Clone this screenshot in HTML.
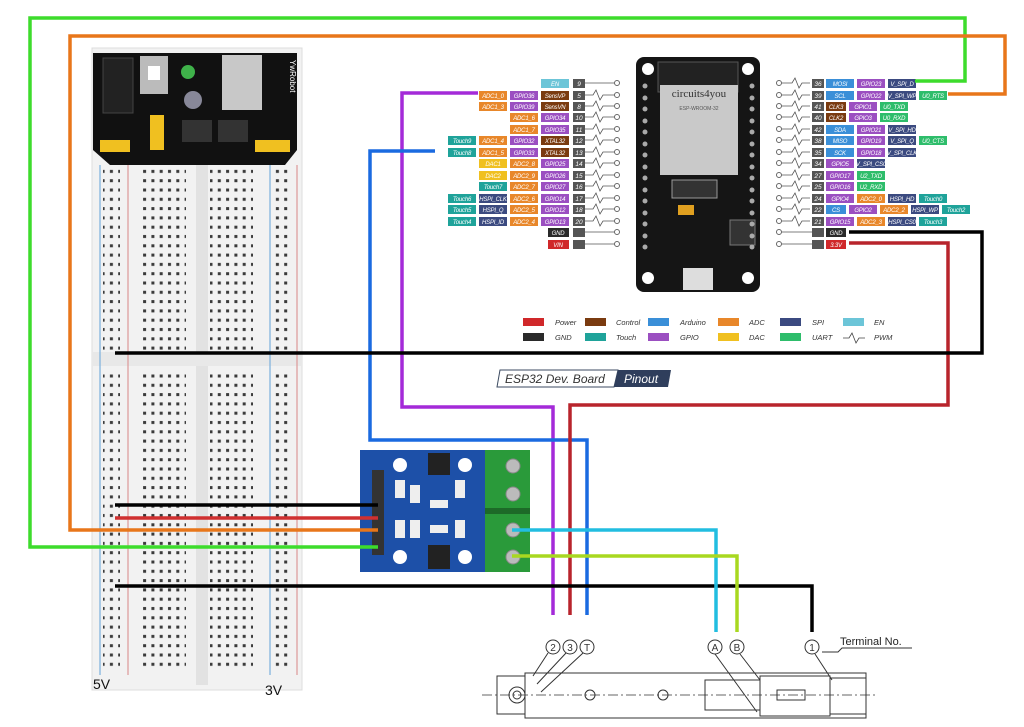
<!DOCTYPE html>
<html><head><meta charset="utf-8"><style>
html,body{margin:0;padding:0;background:#fff;}
svg{display:block;}
.l{font-family:"Liberation Sans",sans-serif;font-size:6px;letter-spacing:-0.2px;font-style:italic;fill:#fff;text-anchor:middle;}
.n{font-family:"Liberation Sans",sans-serif;font-size:6.5px;font-style:italic;fill:#fff;text-anchor:middle;}
.g{font-family:"Liberation Sans",sans-serif;font-size:7.5px;font-style:italic;fill:#333;}
.c{font-family:"Liberation Sans",sans-serif;font-size:10px;fill:#333;text-anchor:middle;}
</style></head><body>
<svg width="1024" height="727" viewBox="0 0 1024 727" xmlns="http://www.w3.org/2000/svg">
<defs>
<pattern id="h" x="0" y="0" width="8.3" height="9.3" patternUnits="userSpaceOnUse"><rect x="2" y="2.5" width="3" height="3" fill="#3a3a3a"/></pattern>
<pattern id="hr" x="0" y="0" width="8.3" height="9.3" patternUnits="userSpaceOnUse"><rect x="2" y="2.5" width="3" height="3" fill="#3a3a3a"/></pattern>
</defs>
<rect width="1024" height="727" fill="#fff"/>

<!-- breadboard -->
<rect x="92" y="48" width="210" height="642" fill="#f2f2f2" stroke="#ddd"/>
<rect x="196" y="165" width="12" height="520" fill="#e2e2e2"/>
<rect x="92" y="352" width="210" height="14" fill="#e8e8e8"/>
<line x1="100" y1="165" x2="100" y2="675" stroke="#7ab0dd" stroke-width="1.2"/>
<line x1="128" y1="165" x2="128" y2="675" stroke="#d99" stroke-width="1.2"/>
<line x1="270" y1="165" x2="270" y2="675" stroke="#7ab0dd" stroke-width="1.2"/>
<line x1="297" y1="165" x2="297" y2="675" stroke="#d99" stroke-width="1.2"/>
<rect x="143" y="168" width="43" height="183" fill="url(#h)"/>
<rect x="210" y="168" width="43" height="183" fill="url(#h)"/>
<rect x="143" y="370" width="43" height="300" fill="url(#h)"/>
<rect x="210" y="370" width="43" height="300" fill="url(#h)"/>
<rect x="103" y="168" width="17" height="183" fill="url(#hr)"/>
<rect x="273" y="168" width="17" height="183" fill="url(#hr)"/>
<rect x="103" y="370" width="17" height="300" fill="url(#hr)"/>
<rect x="273" y="370" width="17" height="300" fill="url(#hr)"/>
<!-- power module -->
<path d="M93 53 H297 V150 L285 165 H110 L93 150 Z" fill="#111"/>
<rect x="103" y="58" width="30" height="55" fill="#222" stroke="#444"/>
<rect x="140" y="56" width="28" height="38" fill="#bbb"/>
<rect x="148" y="66" width="12" height="14" fill="#fff"/>
<circle cx="188" cy="72" r="7" fill="#3fb24a"/>
<circle cx="193" cy="100" r="9" fill="#889"/>
<rect x="222" y="55" width="40" height="55" fill="#c8c8c8"/>
<rect x="150" y="115" width="14" height="35" fill="#f0c020"/>
<rect x="100" y="140" width="30" height="12" fill="#f0c020"/>
<rect x="255" y="140" width="35" height="12" fill="#f0c020"/>
<rect x="182" y="120" width="30" height="22" fill="#333"/>
<rect x="218" y="120" width="30" height="22" fill="#333"/>
<text x="290" y="60" font-family="Liberation Sans" font-size="8" fill="#fff" transform="rotate(90 290 60)">YwRobot</text>
<text x="93" y="689" font-family="Liberation Sans" font-size="14" fill="#111">5V</text>
<text x="265" y="695" font-family="Liberation Sans" font-size="14" fill="#111">3V</text>

<!-- ESP32 board -->
<rect x="636" y="57" width="124" height="235" rx="8" fill="#151515"/>
<rect x="658" y="62" width="80" height="30" fill="#222" stroke="#555"/>
<rect x="660" y="85" width="78" height="90" fill="#c9c9c9"/>
<text x="699" y="97" font-family="Liberation Serif" font-size="11" fill="#333" text-anchor="middle">circuits4you</text>
<text x="699" y="110" font-family="Liberation Sans" font-size="5" fill="#555" text-anchor="middle">ESP-WROOM-32</text>
<rect x="672" y="180" width="45" height="18" fill="#333" stroke="#999"/>
<rect x="678" y="205" width="16" height="10" fill="#e0a020"/>
<rect x="730" y="220" width="25" height="25" fill="#333" stroke="#777"/>
<rect x="683" y="268" width="30" height="22" fill="#ddd"/>
<g fill="#fff">
<circle cx="648" cy="69" r="6"/><circle cx="748" cy="69" r="6"/><circle cx="648" cy="278" r="6"/><circle cx="748" cy="278" r="6"/>
</g>
<g fill="#aaa">
<circle cx="645" cy="86" r="2.5"/><circle cx="645" cy="98" r="2.5"/><circle cx="645" cy="109" r="2.5"/><circle cx="645" cy="121" r="2.5"/><circle cx="645" cy="132" r="2.5"/><circle cx="645" cy="144" r="2.5"/><circle cx="645" cy="155" r="2.5"/><circle cx="645" cy="167" r="2.5"/><circle cx="645" cy="178" r="2.5"/><circle cx="645" cy="190" r="2.5"/><circle cx="645" cy="201" r="2.5"/><circle cx="645" cy="213" r="2.5"/><circle cx="645" cy="224" r="2.5"/><circle cx="645" cy="236" r="2.5"/><circle cx="645" cy="247" r="2.5"/>
<circle cx="752" cy="86" r="2.5"/><circle cx="752" cy="98" r="2.5"/><circle cx="752" cy="109" r="2.5"/><circle cx="752" cy="121" r="2.5"/><circle cx="752" cy="132" r="2.5"/><circle cx="752" cy="144" r="2.5"/><circle cx="752" cy="155" r="2.5"/><circle cx="752" cy="167" r="2.5"/><circle cx="752" cy="178" r="2.5"/><circle cx="752" cy="190" r="2.5"/><circle cx="752" cy="201" r="2.5"/><circle cx="752" cy="213" r="2.5"/><circle cx="752" cy="224" r="2.5"/><circle cx="752" cy="236" r="2.5"/><circle cx="752" cy="247" r="2.5"/>
</g>

<!-- pin lines & dots -->
<g stroke="#555" stroke-width="0.8" fill="none">
<path d="M585 83H616 M585 95h8l3-5 4 10 3-5h13 M585 106h8l3-5 4 10 3-5h13 M585 117h8l3-5 4 10 3-5h13 M585 129h8l3-5 4 10 3-5h13 M585 140h8l3-5 4 10 3-5h13 M585 152h8l3-5 4 10 3-5h13 M585 163h8l3-5 4 10 3-5h13 M585 175h8l3-5 4 10 3-5h13 M585 186h8l3-5 4 10 3-5h13 M585 198h8l3-5 4 10 3-5h13 M585 209h8l3-5 4 10 3-5h13 M585 221h8l3-5 4 10 3-5h13 M585 232H616 M585 244H616"/>
<path d="M779 83h13l3-5 4 10 3-5h8 M779 95h13l3-5 4 10 3-5h8 M779 106h13l3-5 4 10 3-5h8 M779 117h13l3-5 4 10 3-5h8 M779 129h13l3-5 4 10 3-5h8 M779 140h13l3-5 4 10 3-5h8 M779 152h13l3-5 4 10 3-5h8 M779 163h13l3-5 4 10 3-5h8 M779 175h13l3-5 4 10 3-5h8 M779 186h13l3-5 4 10 3-5h8 M779 198h13l3-5 4 10 3-5h8 M779 209h13l3-5 4 10 3-5h8 M779 221h13l3-5 4 10 3-5h8 M779 232H812 M779 244H812"/>
</g>
<g fill="#fff" stroke="#666" stroke-width="1">
<circle cx="617" cy="83" r="2.5"/><circle cx="617" cy="95" r="2.5"/><circle cx="617" cy="106" r="2.5"/><circle cx="617" cy="117" r="2.5"/><circle cx="617" cy="129" r="2.5"/><circle cx="617" cy="140" r="2.5"/><circle cx="617" cy="152" r="2.5"/><circle cx="617" cy="163" r="2.5"/><circle cx="617" cy="175" r="2.5"/><circle cx="617" cy="186" r="2.5"/><circle cx="617" cy="198" r="2.5"/><circle cx="617" cy="209" r="2.5"/><circle cx="617" cy="221" r="2.5"/><circle cx="617" cy="232" r="2.5"/><circle cx="617" cy="244" r="2.5"/>
<circle cx="779" cy="83" r="2.5"/><circle cx="779" cy="95" r="2.5"/><circle cx="779" cy="106" r="2.5"/><circle cx="779" cy="117" r="2.5"/><circle cx="779" cy="129" r="2.5"/><circle cx="779" cy="140" r="2.5"/><circle cx="779" cy="152" r="2.5"/><circle cx="779" cy="163" r="2.5"/><circle cx="779" cy="175" r="2.5"/><circle cx="779" cy="186" r="2.5"/><circle cx="779" cy="198" r="2.5"/><circle cx="779" cy="209" r="2.5"/><circle cx="779" cy="221" r="2.5"/><circle cx="779" cy="232" r="2.5"/><circle cx="779" cy="244" r="2.5"/>
</g>

<g>
<g fill="#555">
<rect x="573" y="79" width="12" height="9"/><rect x="573" y="91" width="12" height="9"/><rect x="573" y="102" width="12" height="9"/><rect x="573" y="113" width="12" height="9"/><rect x="573" y="125" width="12" height="9"/><rect x="573" y="136" width="12" height="9"/><rect x="573" y="148" width="12" height="9"/><rect x="573" y="159" width="12" height="9"/><rect x="573" y="171" width="12" height="9"/><rect x="573" y="182" width="12" height="9"/><rect x="573" y="194" width="12" height="9"/><rect x="573" y="205" width="12" height="9"/><rect x="573" y="217" width="12" height="9"/><rect x="573" y="228" width="12" height="9"/><rect x="573" y="240" width="12" height="9"/>
<rect x="812" y="79" width="12" height="9"/><rect x="812" y="91" width="12" height="9"/><rect x="812" y="102" width="12" height="9"/><rect x="812" y="113" width="12" height="9"/><rect x="812" y="125" width="12" height="9"/><rect x="812" y="136" width="12" height="9"/><rect x="812" y="148" width="12" height="9"/><rect x="812" y="159" width="12" height="9"/><rect x="812" y="171" width="12" height="9"/><rect x="812" y="182" width="12" height="9"/><rect x="812" y="194" width="12" height="9"/><rect x="812" y="205" width="12" height="9"/><rect x="812" y="217" width="12" height="9"/><rect x="812" y="228" width="12" height="9"/><rect x="812" y="240" width="12" height="9"/>
</g>
<g class="n">
<text x="579" y="86">9</text><text x="579" y="98">5</text><text x="579" y="109">8</text><text x="579" y="120">10</text><text x="579" y="132">11</text><text x="579" y="143">12</text><text x="579" y="155">13</text><text x="579" y="166">14</text><text x="579" y="178">15</text><text x="579" y="189">16</text><text x="579" y="201">17</text><text x="579" y="212">18</text><text x="579" y="224">20</text>
<text x="818" y="86">36</text><text x="818" y="98">39</text><text x="818" y="109">41</text><text x="818" y="120">40</text><text x="818" y="132">42</text><text x="818" y="143">38</text><text x="818" y="155">35</text><text x="818" y="166">34</text><text x="818" y="178">27</text><text x="818" y="189">25</text><text x="818" y="201">24</text><text x="818" y="212">22</text><text x="818" y="224">21</text>
</g>
<rect x="541" y="79" width="28" height="9" fill="#6cc5d8"/>
<rect x="479" y="91" width="28" height="9" fill="#e8872a"/><rect x="510" y="91" width="28" height="9" fill="#9b4fc1"/><rect x="541" y="91" width="28" height="9" fill="#7a3b10"/>
<rect x="479" y="102" width="28" height="9" fill="#e8872a"/><rect x="510" y="102" width="28" height="9" fill="#9b4fc1"/><rect x="541" y="102" width="28" height="9" fill="#7a3b10"/>
<rect x="510" y="113" width="28" height="9" fill="#e8872a"/><rect x="541" y="113" width="28" height="9" fill="#9b4fc1"/>
<rect x="510" y="125" width="28" height="9" fill="#e8872a"/><rect x="541" y="125" width="28" height="9" fill="#9b4fc1"/>
<rect x="448" y="136" width="28" height="9" fill="#1fa39a"/><rect x="479" y="136" width="28" height="9" fill="#e8872a"/><rect x="510" y="136" width="28" height="9" fill="#9b4fc1"/><rect x="541" y="136" width="28" height="9" fill="#7a3b10"/>
<rect x="448" y="148" width="28" height="9" fill="#1fa39a"/><rect x="479" y="148" width="28" height="9" fill="#e8872a"/><rect x="510" y="148" width="28" height="9" fill="#9b4fc1"/><rect x="541" y="148" width="28" height="9" fill="#7a3b10"/>
<rect x="479" y="159" width="28" height="9" fill="#f0c020"/><rect x="510" y="159" width="28" height="9" fill="#e8872a"/><rect x="541" y="159" width="28" height="9" fill="#9b4fc1"/>
<rect x="479" y="171" width="28" height="9" fill="#f0c020"/><rect x="510" y="171" width="28" height="9" fill="#e8872a"/><rect x="541" y="171" width="28" height="9" fill="#9b4fc1"/>
<rect x="479" y="182" width="28" height="9" fill="#1fa39a"/><rect x="510" y="182" width="28" height="9" fill="#e8872a"/><rect x="541" y="182" width="28" height="9" fill="#9b4fc1"/>
<rect x="448" y="194" width="28" height="9" fill="#1fa39a"/><rect x="479" y="194" width="28" height="9" fill="#3b4a80"/><rect x="510" y="194" width="28" height="9" fill="#e8872a"/><rect x="541" y="194" width="28" height="9" fill="#9b4fc1"/>
<rect x="448" y="205" width="28" height="9" fill="#1fa39a"/><rect x="479" y="205" width="28" height="9" fill="#3b4a80"/><rect x="510" y="205" width="28" height="9" fill="#e8872a"/><rect x="541" y="205" width="28" height="9" fill="#9b4fc1"/>
<rect x="448" y="217" width="28" height="9" fill="#1fa39a"/><rect x="479" y="217" width="28" height="9" fill="#3b4a80"/><rect x="510" y="217" width="28" height="9" fill="#e8872a"/><rect x="541" y="217" width="28" height="9" fill="#9b4fc1"/>
<rect x="548" y="228" width="21" height="9" fill="#2a2a2a"/>
<rect x="548" y="240" width="21" height="9" fill="#d0282a"/>
<g class="l">
<text x="555" y="86">EN</text>
<text x="493" y="98">ADC1_0</text><text x="524" y="98">GPIO36</text><text x="555" y="98">SensVP</text>
<text x="493" y="109">ADC1_3</text><text x="524" y="109">GPIO39</text><text x="555" y="109">SensVN</text>
<text x="524" y="120">ADC1_6</text><text x="555" y="120">GPIO34</text>
<text x="524" y="132">ADC1_7</text><text x="555" y="132">GPIO35</text>
<text x="462" y="143">Touch9</text><text x="493" y="143">ADC1_4</text><text x="524" y="143">GPIO32</text><text x="555" y="143">XTAL32</text>
<text x="462" y="155">Touch8</text><text x="493" y="155">ADC1_5</text><text x="524" y="155">GPIO33</text><text x="555" y="155">XTAL32</text>
<text x="493" y="166">DAC1</text><text x="524" y="166">ADC2_8</text><text x="555" y="166">GPIO25</text>
<text x="493" y="178">DAC2</text><text x="524" y="178">ADC2_9</text><text x="555" y="178">GPIO26</text>
<text x="493" y="189">Touch7</text><text x="524" y="189">ADC2_7</text><text x="555" y="189">GPIO27</text>
<text x="462" y="201">Touch6</text><text x="493" y="201">HSPI_CLK</text><text x="524" y="201">ADC2_6</text><text x="555" y="201">GPIO14</text>
<text x="462" y="212">Touch5</text><text x="493" y="212">HSPI_Q</text><text x="524" y="212">ADC2_5</text><text x="555" y="212">GPIO12</text>
<text x="462" y="224">Touch4</text><text x="493" y="224">HSPI_ID</text><text x="524" y="224">ADC2_4</text><text x="555" y="224">GPIO13</text>
<text x="558" y="235">GND</text><text x="558" y="247">VIN</text>
</g>

<rect x="826" y="79" width="28" height="9" fill="#3a8fd8"/><rect x="857" y="79" width="28" height="9" fill="#9b4fc1"/><rect x="888" y="79" width="28" height="9" fill="#3b4a80"/>
<rect x="826" y="91" width="28" height="9" fill="#3a8fd8"/><rect x="857" y="91" width="28" height="9" fill="#9b4fc1"/><rect x="888" y="91" width="28" height="9" fill="#3b4a80"/><rect x="919" y="91" width="28" height="9" fill="#2ebd6b"/>
<rect x="826" y="102" width="20" height="9" fill="#7a3b10"/><rect x="849" y="102" width="28" height="9" fill="#9b4fc1"/><rect x="880" y="102" width="28" height="9" fill="#2ebd6b"/>
<rect x="826" y="113" width="20" height="9" fill="#7a3b10"/><rect x="849" y="113" width="28" height="9" fill="#9b4fc1"/><rect x="880" y="113" width="28" height="9" fill="#2ebd6b"/>
<rect x="826" y="125" width="28" height="9" fill="#3a8fd8"/><rect x="857" y="125" width="28" height="9" fill="#9b4fc1"/><rect x="888" y="125" width="28" height="9" fill="#3b4a80"/>
<rect x="826" y="136" width="28" height="9" fill="#3a8fd8"/><rect x="857" y="136" width="28" height="9" fill="#9b4fc1"/><rect x="888" y="136" width="28" height="9" fill="#3b4a80"/><rect x="919" y="136" width="28" height="9" fill="#2ebd6b"/>
<rect x="826" y="148" width="28" height="9" fill="#3a8fd8"/><rect x="857" y="148" width="28" height="9" fill="#9b4fc1"/><rect x="888" y="148" width="28" height="9" fill="#3b4a80"/>
<rect x="826" y="159" width="28" height="9" fill="#9b4fc1"/><rect x="857" y="159" width="28" height="9" fill="#3b4a80"/>
<rect x="826" y="171" width="28" height="9" fill="#9b4fc1"/><rect x="857" y="171" width="28" height="9" fill="#2ebd6b"/>
<rect x="826" y="182" width="28" height="9" fill="#9b4fc1"/><rect x="857" y="182" width="28" height="9" fill="#2ebd6b"/>
<rect x="826" y="194" width="28" height="9" fill="#9b4fc1"/><rect x="857" y="194" width="28" height="9" fill="#e8872a"/><rect x="888" y="194" width="28" height="9" fill="#3b4a80"/><rect x="919" y="194" width="28" height="9" fill="#1fa39a"/>
<rect x="826" y="205" width="20" height="9" fill="#3a8fd8"/><rect x="849" y="205" width="28" height="9" fill="#9b4fc1"/><rect x="880" y="205" width="28" height="9" fill="#e8872a"/><rect x="911" y="205" width="28" height="9" fill="#3b4a80"/><rect x="942" y="205" width="28" height="9" fill="#1fa39a"/>
<rect x="826" y="217" width="28" height="9" fill="#9b4fc1"/><rect x="857" y="217" width="28" height="9" fill="#e8872a"/><rect x="888" y="217" width="28" height="9" fill="#3b4a80"/><rect x="919" y="217" width="28" height="9" fill="#1fa39a"/>
<rect x="826" y="228" width="20" height="9" fill="#2a2a2a"/>
<rect x="826" y="240" width="20" height="9" fill="#d0282a"/>
<g class="l">
<text x="840" y="86">MOSI</text><text x="871" y="86">GPIO23</text><text x="902" y="86">V_SPI_D</text>
<text x="840" y="98">SCL</text><text x="871" y="98">GPIO22</text><text x="902" y="98">V_SPI_WP</text><text x="933" y="98">U0_RTS</text>
<text x="836" y="109">CLK3</text><text x="863" y="109">GPIO1</text><text x="894" y="109">U0_TXD</text>
<text x="836" y="120">CLK2</text><text x="863" y="120">GPIO3</text><text x="894" y="120">U0_RXD</text>
<text x="840" y="132">SDA</text><text x="871" y="132">GPIO21</text><text x="902" y="132">V_SPI_HD</text>
<text x="840" y="143">MISO</text><text x="871" y="143">GPIO19</text><text x="902" y="143">V_SPI_Q</text><text x="933" y="143">U0_CTS</text>
<text x="840" y="155">SCK</text><text x="871" y="155">GPIO18</text><text x="902" y="155">V_SPI_CLK</text>
<text x="840" y="166">GPIO5</text><text x="871" y="166">V_SPI_CS0</text>
<text x="840" y="178">GPIO17</text><text x="871" y="178">U2_TXD</text>
<text x="840" y="189">GPIO16</text><text x="871" y="189">U2_RXD</text>
<text x="840" y="201">GPIO4</text><text x="871" y="201">ADC2_0</text><text x="902" y="201">HSPI_HD</text><text x="933" y="201">Touch0</text>
<text x="836" y="212">CS</text><text x="863" y="212">GPIO2</text><text x="894" y="212">ADC2_2</text><text x="925" y="212">HSPI_WP</text><text x="956" y="212">Touch2</text>
<text x="840" y="224">GPIO15</text><text x="871" y="224">ADC2_3</text><text x="902" y="224">HSPI_CS0</text><text x="933" y="224">Touch3</text>
<text x="836" y="235">GND</text><text x="836" y="247">3.3V</text>
</g>
</g>

<!-- legend -->
<rect x="523" y="318" width="21" height="8" fill="#d0282a"/><text class="g" x="555" y="325">Power</text>
<rect x="585" y="318" width="21" height="8" fill="#7a3b10"/><text class="g" x="616" y="325">Control</text>
<rect x="648" y="318" width="21" height="8" fill="#3a8fd8"/><text class="g" x="680" y="325">Arduino</text>
<rect x="718" y="318" width="21" height="8" fill="#e8872a"/><text class="g" x="749" y="325">ADC</text>
<rect x="780" y="318" width="21" height="8" fill="#3b4a80"/><text class="g" x="812" y="325">SPI</text>
<rect x="843" y="318" width="21" height="8" fill="#6cc5d8"/><text class="g" x="874" y="325">EN</text>
<rect x="523" y="333" width="21" height="8" fill="#2a2a2a"/><text class="g" x="555" y="340">GND</text>
<rect x="585" y="333" width="21" height="8" fill="#1fa39a"/><text class="g" x="616" y="340">Touch</text>
<rect x="648" y="333" width="21" height="8" fill="#9b4fc1"/><text class="g" x="680" y="340">GPIO</text>
<rect x="718" y="333" width="21" height="8" fill="#f0c020"/><text class="g" x="749" y="340">DAC</text>
<rect x="780" y="333" width="21" height="8" fill="#2ebd6b"/><text class="g" x="812" y="340">UART</text>
<path d="M843 338h6l3-5 4 10 3-5h6" stroke="#444" fill="none" stroke-width="0.8"/><text class="g" x="874" y="340">PWM</text>

<!-- banner -->
<path d="M500 370H618L614 387H497Z" fill="#fff" stroke="#3b4a60" stroke-width="1"/>
<path d="M618 370H671L668 387H614Z" fill="#2f3e5c"/>
<text x="505" y="383" font-family="Liberation Sans" font-size="12" font-style="italic" fill="#333">ESP32 Dev. Board</text>
<text x="624" y="383" font-family="Liberation Sans" font-size="12" font-style="italic" fill="#fff">Pinout</text>

<!-- motor driver -->
<rect x="360" y="450" width="128" height="122" fill="#1d50a8"/>
<rect x="485" y="450" width="45" height="122" fill="#2a9a3a"/>
<rect x="485" y="508" width="45" height="6" fill="#1d6a28"/>
<g fill="#bbb" stroke="#888"><circle cx="513" cy="466" r="7"/><circle cx="513" cy="494" r="7"/><circle cx="513" cy="530" r="7"/><circle cx="513" cy="557" r="7"/></g>
<g fill="#fff"><circle cx="400" cy="465" r="7"/><circle cx="465" cy="465" r="7"/><circle cx="400" cy="557" r="7"/><circle cx="465" cy="557" r="7"/></g>
<rect x="428" y="453" width="22" height="22" fill="#222"/><rect x="428" y="545" width="22" height="24" fill="#222"/>
<g fill="#eee"><rect x="395" y="480" width="10" height="18"/><rect x="410" y="485" width="10" height="18"/><rect x="455" y="480" width="10" height="18"/><rect x="395" y="520" width="10" height="18"/><rect x="410" y="520" width="10" height="18"/><rect x="455" y="520" width="10" height="18"/><rect x="430" y="500" width="18" height="8"/><rect x="430" y="525" width="18" height="8"/></g>
<rect x="372" y="470" width="12" height="85" fill="#333"/>

<!-- wires -->
<g fill="none" stroke-width="3.5" stroke-linejoin="miter">
<path d="M378 547H30V18H965V81H915" stroke="#3ddc2c"/>
<path d="M378 530H70V36H1005V94H948" stroke="#e8761a"/>
<path d="M478 93H402V407H553V615" stroke="#a42ad8"/>
<path d="M435 151H370V440H587V615" stroke="#1a6ae0"/>
<path d="M849 243H948V405H570V615" stroke="#b8242c"/>
<path d="M849 232H982V353H115" stroke="#000"/>
<path d="M115 505H378" stroke="#000"/>
<path d="M115 518H378" stroke="#d03030"/>
<path d="M115 586H812V632" stroke="#000"/>
<path d="M512 530H716V632" stroke="#22bde0"/>
<path d="M512 556H737V632" stroke="#a8d820"/>
</g>

<!-- sensor drawing -->
<g fill="none" stroke="#333" stroke-width="1">
<circle cx="553" cy="647" r="7"/><circle cx="570" cy="647" r="7"/><circle cx="587" cy="647" r="7"/>
<circle cx="715" cy="647" r="7"/><circle cx="737" cy="647" r="7"/><circle cx="812" cy="647" r="7"/>
<rect x="497" y="676" width="28" height="38"/>
<rect x="525" y="673" width="341" height="45"/>
<rect x="705" y="680" width="55" height="30"/>
<rect x="760" y="676" width="70" height="40"/>
<rect x="830" y="678" width="36" height="36"/>
<circle cx="517" cy="695" r="8"/><circle cx="517" cy="695" r="4"/>
<circle cx="590" cy="695" r="5"/><circle cx="663" cy="695" r="5"/>
<rect x="777" y="690" width="28" height="10"/>
<path d="M548 653L533 676M566 653L537 684M583 653L541 692M715 654L757 712M740 654L760 680M815 654L832 680M822 652H838L842 648H912"/>
<path d="M482 695H875" stroke-dasharray="10 3 2 3" stroke-width="0.8"/>
</g>
<g class="c"><text x="553" y="651">2</text><text x="570" y="651">3</text><text x="587" y="651">T</text><text x="715" y="651">A</text><text x="737" y="651">B</text><text x="812" y="651">1</text></g>
<text x="840" y="645" font-family="Liberation Sans" font-size="11" fill="#222">Terminal No.</text>
</svg>
</body></html>
